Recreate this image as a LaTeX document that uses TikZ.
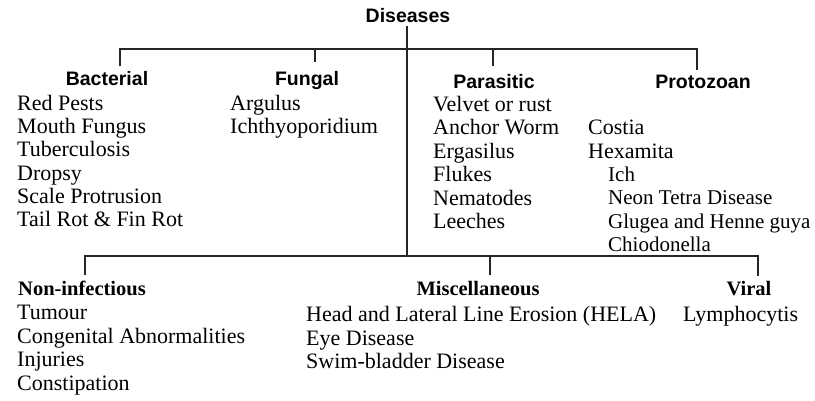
\documentclass[tikz,border=0pt]{standalone}
\usepackage{fontspec}
\setmainfont{Liberation Serif}
\newfontfamily\headsans{Liberation Sans}
\tikzset{
  head/.style={font=\headsans\bfseries\fontsize{19.5}{22}\selectfont, inner sep=1pt, text height=0.72em, text depth=0.2em, yshift=-3pt},
  sub/.style={font=\bfseries\fontsize{20.5}{23}\selectfont, inner sep=1pt, text height=0.7em, text depth=0.22em, yshift=-4pt},
  item/.style={anchor=west, inner sep=0pt, font=\fontsize{22}{24}\selectfont, text height=0.7em, text depth=0.22em, yshift=-4pt},
  link/.style={line width=1.1pt, black!85},
}
\begin{document}
\begin{tikzpicture}[x=1pt,y=-1pt]
	\useasboundingbox (0,0) rectangle (815,400);
	% root and trunk
	\node[head] (root) at (408,17) {Diseases};
	\coordinate (hub) at (407,256);
	\draw[link] (root.south -| hub) -- (hub);
	% infectious groups
	\node[head] (bac) at (107,80) {Bacterial};
	\node[head] (fun) at (307,80) {Fungal};
	\node[head] (par) at (494,83) {Parasitic};
	\node[head] (pro) at (703,83) {Protozoan};
	\coordinate (tbL) at (120,49);
	\coordinate (tbR) at (697,49);
	\coordinate (bacT) at (120,66);
	\coordinate (funT) at (315,62);
	\coordinate (parT) at (493,66);
	\coordinate (proT) at (697,70);
	\draw[link] (bacT) -- (tbL) -- (tbR) -- (proT);
	\draw[link] (funT) -- (funT |- tbL);
	\draw[link] (parT) -- (parT |- tbL);
	\foreach \t [count=\i] in {Red Pests, Mouth Fungus, Tuberculosis, Dropsy, Scale Protrusion, Tail Rot \& Fin Rot}
		\node[item] (bac\i) at (17,104+23.2*\i-23.2) {\t};
	\foreach \t [count=\i] in {Argulus, Ichthyoporidium}
		\node[item] (fun\i) at (230,104+23.2*\i-23.2) {\t};
	\foreach \t [count=\i] in {Velvet or rust, Anchor Worm, Ergasilus, Flukes, Nematodes, Leeches}
		\node[item] (par\i) at (433,105+23.4*\i-23.4) {\t};
	\node[item] (pro1) at (588,128) {Costia};
	\node[item] (pro2) at (588,152) {Hexamita};
	\foreach \t [count=\i] in {Ich, Neon Tetra Disease, Glugea and Henne guya, Chiodonella}
		\node[item, font=\fontsize{21}{24}\selectfont] (pro\i x) at (608,175+23.4*\i-23.4) {\t};
	% other groups
	\node[sub, anchor=west] (non) at (17,289) {Non-infectious};
	\node[sub] (mis) at (478,289) {Miscellaneous};
	\node[sub] (vir) at (749,289) {Viral};
	\coordinate (bbL) at (85,256);
	\coordinate (bbR) at (758,256);
	\coordinate (nonT) at (85,275);
	\coordinate (misT) at (490,275);
	\coordinate (virT) at (758,276);
	\draw[link] (nonT) -- (bbL) -- (bbR) -- (virT);
	\draw[link] (misT) -- (misT |- bbL);
	\foreach \t [count=\i] in {Tumour, Congenital Abnormalities, Injuries, Constipation}
		\node[item] (non\i) at (17,313+23.6*\i-23.6) {\t};
	\foreach \t [count=\i] in {Head and Lateral Line Erosion (HELA), Eye Disease, Swim-bladder Disease}
		\node[item] (mis\i) at (306,315+23.6*\i-23.6) {\t};
	\node[item] (vir1) at (683,315) {Lymphocytis};
\end{tikzpicture}
\end{document}
